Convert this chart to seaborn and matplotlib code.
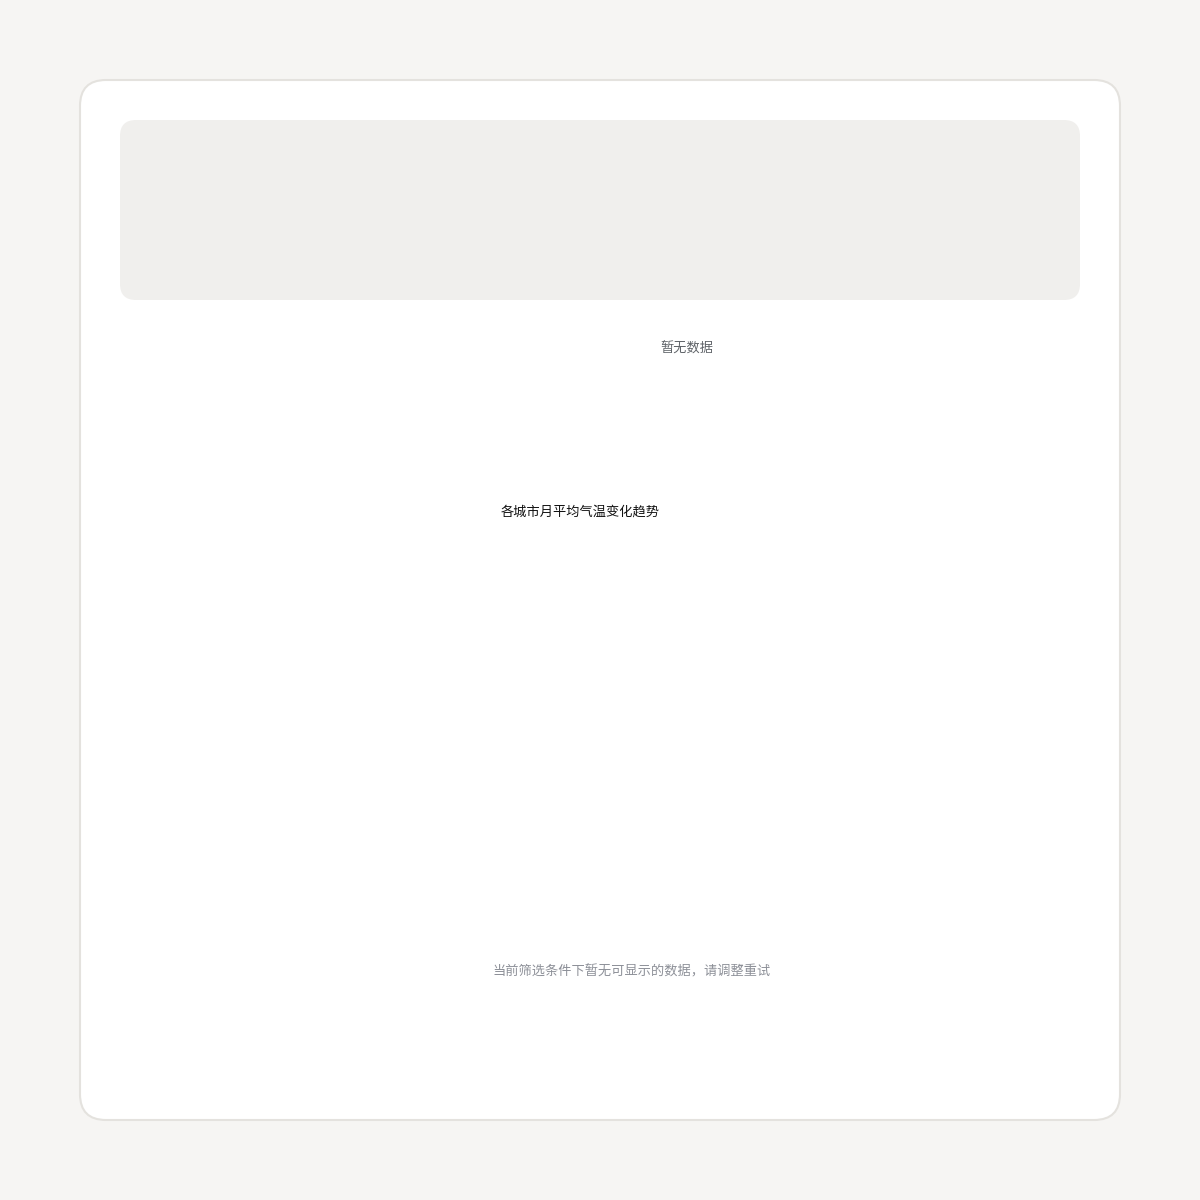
import matplotlib.pyplot as plt
import seaborn as sns
from matplotlib.patches import FancyBboxPatch

sns.set_theme(style="white")
plt.rcParams['font.family'] = ['Noto Sans CJK SC', 'DejaVu Sans']

# 文字内容（图中无数据点）
legend_text = "暂无数据"
title_text = "各城市月平均气温变化趋势"
note_text = "当前筛选条件下暂无可显示的数据，请调整重试"

fig = plt.figure(figsize=(12, 12), dpi=100, facecolor='#f6f5f3')
ax = fig.add_axes([0, 0, 1, 1])
ax.set_xlim(0, 1200)
ax.set_ylim(1200, 0)
ax.axis('off')

# 白色卡片
card = FancyBboxPatch((80, 80), 1040, 1040, boxstyle="round,pad=0,rounding_size=26",
                      facecolor='white', edgecolor='#e4e2de', linewidth=1.5)
ax.add_patch(card)

# 顶部灰色区域
header = FancyBboxPatch((120, 120), 960, 180, boxstyle="round,pad=0,rounding_size=16",
                        facecolor='#f0efed', edgecolor='none')
ax.add_patch(header)

ax.text(687, 349, legend_text, ha='center', va='center', fontsize=9.5, color='#5f6368')
ax.text(580, 512, title_text, ha='center', va='center', fontsize=9.5, color='#111111')
ax.text(632, 972, note_text, ha='center', va='center', fontsize=9.5, color='#8d9098')

plt.savefig('out.png', dpi=100, facecolor=fig.get_facecolor())
